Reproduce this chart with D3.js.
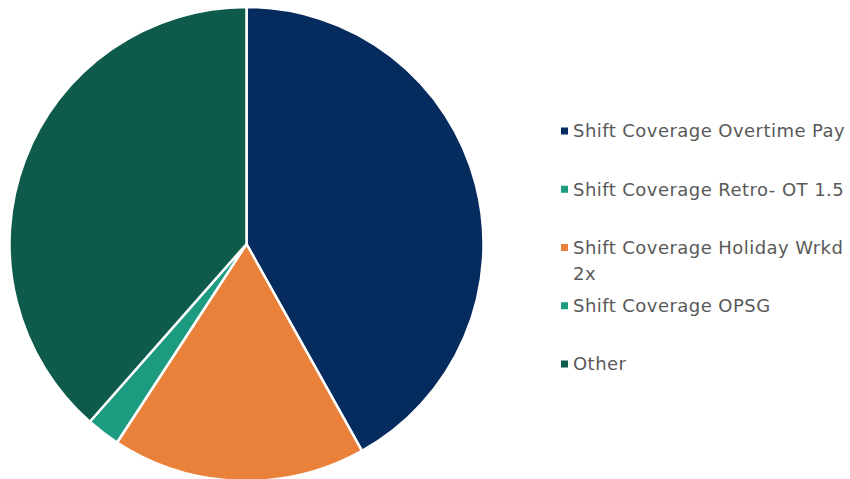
<!DOCTYPE html>
<html>
<head>
<meta charset="utf-8">
<script src="https://cdn.jsdelivr.net/npm/d3@7"></script>
<style>
  html, body { margin: 0; padding: 0; background: #fff; }
  svg { display: block; }
  .legend text { font-family: "DejaVu Sans", sans-serif; font-size: 18px; letter-spacing: 0.45px; fill: #595959; }
</style>
</head>
<body>
<div id="chart"></div>
<script>
// Data
const categories = [
  "Shift Coverage Overtime Pay",
  "Shift Coverage Retro- OT 1.5",
  "Shift Coverage Holiday Wrkd 2x",
  "Shift Coverage OPSG",
  "Other",
];
const values = [41.9, 0, 17.3, 2.3, 38.5];
const colors = ["#062c5f", "#1c9b80", "#e9813a", "#1c9b80", "#0e5b4b"];

const width = 850;
const height = 479;

const data = categories.map((c, i) => ({ name: c, value: values[i], color: colors[i] }));

const svg = d3
  .select("#chart")
  .append("svg")
  .attr("width", width)
  .attr("height", height);

// Pie
const cx = 246.5;
const cy = 244;
const radius = 237;

const pie = d3.pie().sort(null).value((d) => d.value);
const arc = d3.arc().innerRadius(0).outerRadius(radius);

svg
  .append("g")
  .attr("transform", `translate(${cx},${cy})`)
  .selectAll("path")
  .data(pie(data).filter((d) => d.data.value > 0))
  .join("path")
  .attr("d", arc)
  .attr("fill", (d) => d.data.color)
  .attr("stroke", "#fff")
  .attr("stroke-width", 2.5)
  .attr("stroke-linejoin", "round");

// Legend
const y = d3.scalePoint().domain(categories).range([131, 364]);
const textX = 573;
const maxW = width - textX - 2;

const legend = svg.append("g").attr("class", "legend");

const item = legend
  .selectAll("g")
  .data(data)
  .join("g")
  .attr("transform", (d) => `translate(0,${y(d.name)})`);

item
  .append("rect")
  .attr("x", 561)
  .attr("y", -3.5)
  .attr("width", 7)
  .attr("height", 7)
  .attr("fill", (d) => d.color);

// wrap long labels
item.each(function (d) {
  const t = d3.select(this).append("text").attr("x", textX).attr("dy", "0.35em");
  const words = d.name.split(" ");
  let line = [];
  let ts = t.append("tspan").attr("x", textX);
  words.forEach((w) => {
    line.push(w);
    ts.text(line.join(" "));
    if (ts.node().getComputedTextLength() > maxW && line.length > 1) {
      line.pop();
      ts.text(line.join(" "));
      line = [w];
      ts = t.append("tspan").attr("x", textX).attr("dy", "26px").text(w);
    }
  });
});
</script>
</body>
</html>
